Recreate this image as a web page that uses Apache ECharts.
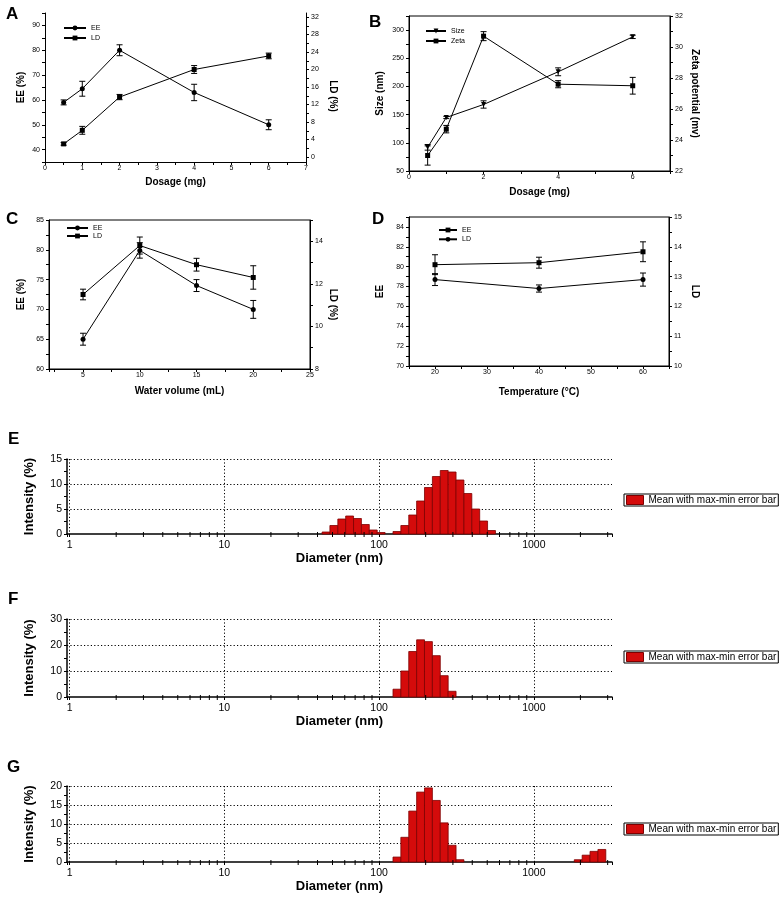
<!DOCTYPE html>
<html>
<head>
<meta charset="utf-8">
<title>Formulation and size distribution</title>
<script src="https://cdn.jsdelivr.net/npm/echarts@6/dist/echarts.min.js"></script>
<style>
html, body { margin: 0; padding: 0; background: #fff; }
#chart { width: 784px; height: 902px; }
</style>
</head>
<body>
<div id="chart"></div>
<script>
// A - dosage
var doseA = [0.5, 1, 2, 4, 6];
var eeA = [59, 64.5, 80, 63, 50];
var eeErrA = [1, 3, 2.2, 3.3, 2];
var ldA = [3.0, 6.1, 13.7, 20.0, 23.1];
var ldErrA = [0.3, 0.9, 0.6, 0.9, 0.65];

// B - dosage vs size / zeta
var doseB = [0.5, 1, 2, 4, 6];
var sizeB = [92, 145, 168, 226, 288];
var sizeErrB = [5, 2, 6.5, 7, 3];
var zetaB = [23.0, 24.7, 30.7, 27.6, 27.5];
var zetaErrB = [0.62, 0.24, 0.29, 0.23, 0.54];

// C - water volume
var waterC = [5, 10, 15, 20];
var eeC = [65, 79.9, 74, 70];
var eeErrC = [1, 1.3, 1, 1.5];
var ldC = [11.5, 13.8, 12.9, 12.3];
var ldErrC = [0.25, 0.4, 0.3, 0.55];

// D - temperature
var tempD = [20, 40, 60];
var eeD = [80.2, 80.4, 81.5];
var eeErrD = [1, 0.55, 1];
var ldD = [12.9, 12.6, 12.9];
var ldErrD = [0.2, 0.12, 0.22];

// E, F, G - size distributions (bin centre in nm, intensity %)
var binE = [45.4, 51.0, 57.4, 64.5, 72.5, 81.5, 91.7, 103.1, 130.4, 146.6, 164.9, 185.4, 208.4, 234.4, 263.6, 296.4, 333.3, 374.8, 421.4, 473.8, 532.8];
var intE = [0.4, 1.7, 3.0, 3.6, 3.1, 1.9, 0.8, 0.3, 0.5, 1.7, 3.8, 6.6, 9.3, 11.5, 12.7, 12.4, 10.8, 8.1, 5.0, 2.6, 0.7];
var binF = [130.4, 146.6, 164.9, 185.4, 208.4, 234.4, 263.6, 296.4];
var intF = [3.0, 10.0, 17.5, 22.0, 21.3, 15.9, 8.2, 2.2];
var binG = [130.4, 146.6, 164.9, 185.4, 208.4, 234.4, 263.6, 296.4, 333.3, 1936, 2176, 2447, 2752];
var intG = [1.3, 6.5, 13.4, 18.4, 19.5, 16.2, 10.3, 4.4, 0.6, 0.6, 1.8, 2.8, 3.3];
var logMinorTicks = [2, 3, 4, 5, 6, 7, 8, 9, 20, 30, 40, 50, 60, 70, 80, 90, 200, 300, 400, 500, 600, 700, 800, 900, 2000, 3000];
var legendText = 'Mean with max-min error bar';

var FONT = 'Liberation Sans, Arial, Helvetica, sans-serif';
var binHalf = 1.0604; // half a bin width on the log scale
var barFill = '#d40b0b';
var barEdge = '#7d0000';

var chart = document.getElementById('chart');
var myChart = echarts.init(chart);

function keepEvery(step) {
    return function (v) {
        var r = v / step;
        return Math.abs(r - Math.round(r)) < 1e-6 ? String(+v.toFixed(2)) : '';
    };
}

function powerOfTen(v) {
    var l = Math.log(v) / Math.LN10;
    return Math.abs(l - Math.round(l)) < 1e-6 ? String(Math.round(v)) : '';
}

function trimName(n) { return n.trim(); }

function axis(o) {
    var a = {
        type: 'value',
        gridIndex: o.grid,
        min: o.min,
        max: o.max,
        position: o.pos,
        axisLine: { show: !o.noLine, onZero: false, lineStyle: { color: '#000', width: 1 } },
        axisTick: { show: !o.noTicks, length: 3, lineStyle: { color: '#000', width: 1 } },
        axisLabel: { show: !o.noLabels, fontSize: 7, color: '#000', fontFamily: FONT, margin: o.margin || 5,
            formatter: o.step ? keepEvery(o.step) : '{value}' },
        splitLine: { show: false }
    };
    if (o.interval) a.interval = o.interval;
    if (o.minor) a.minorTick = { show: true, splitNumber: o.minor, length: 3, lineStyle: { color: '#000', width: 1 } };
    if (o.name) {
        a.name = o.name;
        a.nameLocation = 'middle';
        a.nameGap = o.gap;
        if (o.rotate != null) a.nameRotate = o.rotate;
        a.nameTextStyle = { fontSize: 10, fontWeight: 'bold', color: '#000', fontFamily: FONT, padding: o.pad || 0 };
    }
    return a;
}

function logX(g) {
    return {
        type: 'log', logBase: 10, gridIndex: g, min: 0.962, max: 3200,
        axisLine: { onZero: false, lineStyle: { color: '#000', width: 1.5 } },
        axisTick: { length: 3, lineStyle: { color: '#000', width: 1 } },
        axisLabel: { fontSize: 10.5, color: '#000', fontFamily: FONT, margin: 6, formatter: powerOfTen },
        splitLine: { show: true, showMinLine: false, showMaxLine: false, lineStyle: { color: '#000', type: [1.2, 2.2], width: 1 } },
        name: 'Diameter (nm)', nameLocation: 'middle', nameGap: 16,
        nameTextStyle: { fontSize: 13, fontWeight: 'bold', color: '#000', fontFamily: FONT }
    };
}

function histY(g, max, step) {
    return {
        type: 'value', gridIndex: g, min: 0, max: max, interval: step,
        axisLine: { show: true, onZero: false, lineStyle: { color: '#000', width: 1.5 } },
        axisTick: { show: true, length: 3, lineStyle: { color: '#000', width: 1 } },
        minorTick: { show: true, splitNumber: 2, length: 3, lineStyle: { color: '#000', width: 1 } },
        axisLabel: { fontSize: 10.5, color: '#000', fontFamily: FONT, margin: 5 },
        splitLine: { show: true, showMinLine: false, lineStyle: { color: '#000', type: [1.2, 2.2], width: 1 } },
        name: 'Intensity (%)', nameLocation: 'middle', nameGap: 31,
        nameTextStyle: { fontSize: 13, fontWeight: 'bold', color: '#000', fontFamily: FONT }
    };
}

function renderErr(params, api) {
    var x = api.value(0);
    var lo = api.coord([x, api.value(1)]);
    var hi = api.coord([x, api.value(2)]);
    var w = 3;
    var st = { stroke: '#000', lineWidth: 1 };
    return {
        type: 'group',
        children: [
            { type: 'line', shape: { x1: lo[0], y1: lo[1], x2: hi[0], y2: hi[1] }, style: st },
            { type: 'line', shape: { x1: lo[0] - w, y1: lo[1], x2: lo[0] + w, y2: lo[1] }, style: st },
            { type: 'line', shape: { x1: hi[0] - w, y1: hi[1], x2: hi[0] + w, y2: hi[1] }, style: st }
        ]
    };
}

function errSeries(xi, yi, xs, ys, es) {
    return {
        type: 'custom', xAxisIndex: xi, yAxisIndex: yi, silent: true, z: 2,
        encode: { x: 0, y: [1, 2] },
        data: xs.map(function (x, i) { return [x, ys[i] - es[i], ys[i] + es[i]]; }),
        renderItem: renderErr
    };
}

function lineSeries(name, xi, yi, xs, ys, symbol, rot) {
    return {
        type: 'line', name: name, xAxisIndex: xi, yAxisIndex: yi, z: 3,
        data: xs.map(function (x, i) { return [x, ys[i]]; }),
        symbol: symbol, symbolSize: 5, symbolRotate: rot || 0, showAllSymbol: true,
        lineStyle: { color: '#000', width: 1 },
        itemStyle: { color: '#000' }
    };
}

function binSeries(name, xi, yi, sizes, values) {
    return {
        type: 'custom', name: name, xAxisIndex: xi, yAxisIndex: yi, z: 3,
        itemStyle: { color: barFill, borderColor: barEdge },
        data: sizes.map(function (s, i) { return [s, values[i]]; }),
        renderItem: function (params, api) {
            var d = api.value(0);
            var top = api.coord([d / binHalf, api.value(1)]);
            var base = api.coord([d * binHalf, 0]);
            return {
                type: 'rect',
                shape: { x: top[0], y: top[1], width: base[0] - top[0], height: base[1] - top[1] },
                style: { fill: barFill, stroke: barEdge, lineWidth: 0.8 }
            };
        }
    };
}

function tickSeries(xi, yi) {
    return {
        type: 'custom', xAxisIndex: xi, yAxisIndex: yi, silent: true, clip: false, z: 5,
        data: logMinorTicks.map(function (v) { return [v, 0]; }),
        renderItem: function (params, api) {
            var p = api.coord([api.value(0), 0]);
            return { type: 'line', shape: { x1: p[0], y1: p[1] - 2, x2: p[0], y2: p[1] + 3 }, style: { stroke: '#000', lineWidth: 1 } };
        }
    };
}

function lineLegend(names, left, top, iw, gap) {
    return {
        data: names, left: left, top: top, orient: 'vertical', padding: 0,
        itemWidth: iw, itemHeight: 6, itemGap: gap,
        textStyle: { fontSize: 7, lineHeight: 8, color: '#000', fontFamily: FONT },
        formatter: trimName, selectedMode: false
    };
}

function boxLegend(name, top) {
    return {
        data: [name], left: 624, top: top, padding: [1, 2], icon: 'rect',
        borderColor: '#000', borderWidth: 1, itemWidth: 17, itemHeight: 9,
        itemStyle: { borderColor: barEdge, borderWidth: 1 },
        textStyle: { fontSize: 10, lineHeight: 10, color: '#000', fontFamily: FONT },
        formatter: trimName, selectedMode: false
    };
}

function letter(t, left, top) {
    return { text: t, left: left, top: top, padding: 0,
        textStyle: { fontSize: 17, fontWeight: 'bold', color: '#000', fontFamily: FONT } };
}

var box = { show: true, borderColor: '#000', borderWidth: 1, backgroundColor: 'transparent' };

option = {
    animation: false,
    backgroundColor: '#fff',
    textStyle: { fontFamily: FONT, color: '#000' },
    title: [
        letter('A', 6, 6), letter('B', 369, 14), letter('C', 6, 211), letter('D', 372, 211),
        letter('E', 8, 431), letter('F', 8, 591), letter('G', 7, 759)
    ],
    legend: [
        lineLegend(['EE', 'LD'], 63, 24, 22, 2),
        lineLegend(['Size', 'Zeta'], 425, 27, 20, 2),
        lineLegend(['EE ', 'LD '], 66, 224, 21, 0),
        lineLegend(['EE  ', 'LD  '], 438, 226, 18, 1.3),
        boxLegend(legendText, 494),
        boxLegend(legendText + ' ', 651),
        boxLegend(legendText + '  ', 823)
    ],
    grid: [
        { left: 45, top: 13, width: 261, height: 149, outerBoundsMode: 'none' },
        { left: 45, top: 17, width: 261, height: 140, outerBoundsMode: 'none' },
        Object.assign({ left: 409, top: 16, width: 261, height: 155, outerBoundsMode: 'none' }, box),
        Object.assign({ left: 49, top: 220, width: 261, height: 149, outerBoundsMode: 'none' }, box),
        Object.assign({ left: 409, top: 217, width: 260, height: 149, outerBoundsMode: 'none' }, box),
        { left: 67, top: 459, width: 545, height: 75, outerBoundsMode: 'none' },
        { left: 67, top: 619, width: 545, height: 78, outerBoundsMode: 'none' },
        { left: 67, top: 786, width: 545, height: 76, outerBoundsMode: 'none' }
    ],
    xAxis: [
        axis({ grid: 0, min: 0, max: 7, interval: 0.5, step: 1, margin: 3, name: 'Dosage (mg)', gap: 15 }),
        axis({ grid: 1, min: 0, max: 7, noLine: true, noTicks: true, noLabels: true }),
        axis({ grid: 2, min: 0, max: 7, interval: 1, step: 2, margin: 3, name: 'Dosage (mg)', gap: 16 }),
        axis({ grid: 3, min: 2, max: 25, step: 5, minor: 2, margin: 3, name: 'Water volume (mL)', gap: 17 }),
        axis({ grid: 4, min: 15, max: 65, interval: 5, step: 10, margin: 3, name: 'Temperature (°C)', gap: 21 }),
        logX(5), logX(6), logX(7)
    ],
    yAxis: [
        axis({ grid: 0, min: 35, max: 95, interval: 5, step: 10, name: 'EE (%)', gap: 19 }),
        axis({ grid: 0, min: 0, max: 1, pos: 'right', noTicks: true, noLabels: true }),
        axis({ grid: 1, min: 0, max: 32, interval: 2, step: 4, pos: 'right', noLine: true, name: 'LD (%)', gap: 21.5, rotate: -90, pad: [0, 0, 0, 18] }),
        axis({ grid: 2, min: 50, max: 325, interval: 25, step: 50, name: 'Size (nm)', gap: 24 }),
        axis({ grid: 2, min: 22, max: 32, interval: 1, step: 2, pos: 'right', name: 'Zeta potential (mv)', gap: 20, rotate: -90 }),
        axis({ grid: 3, min: 60, max: 85, interval: 2.5, step: 5, name: 'EE (%)', gap: 23 }),
        axis({ grid: 3, min: 8, max: 15, interval: 1, step: 2, pos: 'right', name: 'LD (%)', gap: 17.5, rotate: -90, pad: [0, 0, 0, 20] }),
        axis({ grid: 4, min: 70, max: 85, interval: 1, step: 2, name: 'EE', gap: 24 }),
        axis({ grid: 4, min: 10, max: 15, interval: 0.5, step: 1, pos: 'right', name: 'LD', gap: 21, rotate: -90 }),
        histY(5, 15, 5),
        histY(6, 30, 10),
        histY(7, 20, 5)
    ],
    series: [
        errSeries(0, 0, doseA, eeA, eeErrA),
        lineSeries('EE', 0, 0, doseA, eeA, 'circle'),
        errSeries(1, 2, doseA, ldA, ldErrA),
        lineSeries('LD', 1, 2, doseA, ldA, 'rect'),

        errSeries(2, 3, doseB, sizeB, sizeErrB),
        lineSeries('Size', 2, 3, doseB, sizeB, 'triangle', 180),
        errSeries(2, 4, doseB, zetaB, zetaErrB),
        lineSeries('Zeta', 2, 4, doseB, zetaB, 'rect'),

        errSeries(3, 5, waterC, eeC, eeErrC),
        lineSeries('EE ', 3, 5, waterC, eeC, 'circle'),
        errSeries(3, 6, waterC, ldC, ldErrC),
        lineSeries('LD ', 3, 6, waterC, ldC, 'rect'),

        errSeries(4, 7, tempD, eeD, eeErrD),
        lineSeries('EE  ', 4, 7, tempD, eeD, 'rect'),
        errSeries(4, 8, tempD, ldD, ldErrD),
        lineSeries('LD  ', 4, 8, tempD, ldD, 'circle'),

        binSeries(legendText, 5, 9, binE, intE),
        tickSeries(5, 9),
        binSeries(legendText + ' ', 6, 10, binF, intF),
        tickSeries(6, 10),
        binSeries(legendText + '  ', 7, 11, binG, intG),
        tickSeries(7, 11)
    ]
};

myChart.setOption(option);
</script>
</body>
</html>
